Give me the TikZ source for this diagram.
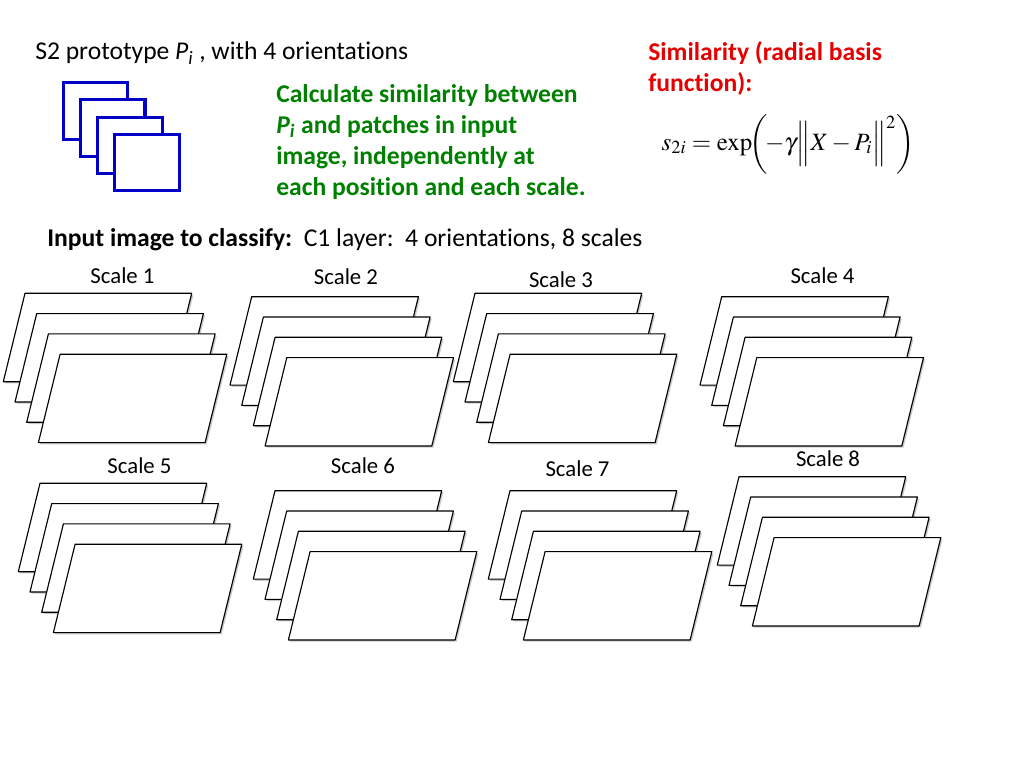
\documentclass[tikz,border=0pt]{standalone}
\usepackage{mathptmx}
\usepackage[no-math]{fontspec}
\setmainfont{Carlito}[Ligatures=CommonOff]
\usetikzlibrary{shadows,positioning}
\definecolor{calcgreen}{RGB}{0,128,0}
\definecolor{simred}{RGB}{230,0,0}
\definecolor{protoblue}{RGB}{0,0,200}

\begin{document}
\begin{tikzpicture}[x=0.703125pt, y=-0.703125pt]
  \tikzstyle{sheet} = [draw, fill=white, line width=0.8pt, line join=round, drop shadow={shadow xshift=1.2pt, shadow yshift=-1.2pt, opacity=0.35, fill=black!60}]
  \tikzstyle{proto} = [draw=protoblue, fill=white, line width=2.2pt]
  \tikzstyle{scalelabel} = [font=\fontsize{16}{19}\selectfont, inner sep=0pt]
  \tikzstyle{plain} = [font=\fontsize{18}{21.8}\selectfont, inner sep=0pt, align=left]
  \useasboundingbox (0,0) rectangle (1024,768);

  \node [plain, anchor=base west] (title) at (35,60) {S2 prototype \textit{P}\textsubscript{\textit{i}} , with 4 orientations};
  \foreach \k in {0,...,3}
    \draw [proto] (63.3+17.2*\k, 82.7+17.2*\k) rectangle ++(64.5,56.5);

  \node [plain, anchor=north west, text=calcgreen] (calc) at (276,84) {\bfseries Calculate similarity between\\\bfseries\textit{P}\textsubscript{\textit{i}} and patches in input\\\bfseries image, independently at\\\bfseries each position and each scale.};
  \node [plain, anchor=north west, text=simred] (sim) at (648,41) {\bfseries Similarity (radial basis\\\bfseries function):};
  \node [inner sep=0pt, font=\fontsize{17.5}{21}\selectfont] (rbf) at (788,144) {$s_{2i} = \exp\!\biggl(\!-\gamma\Bigl\|X-P_i\Bigr\|^2\biggr)$};

  \node [plain, anchor=base west] (input) at (47,247) {\textbf{Input image to classify:}\ \ C1 layer:\ \ 4 orientations, 8 scales};

  \foreach \sx/\sy/\n/\lx/\ly in {25/293.3/1/122.5/275.5, 251.7/296.7/2/346/276.7, 475/293.3/3/561/279.7, 721.7/296.7/4/822.5/275.5,
                                  40/483.3/5/139.5/465.5, 275/490.7/6/363/465.5, 510/490.7/7/577.5/469, 739/476.7/8/828/459}{
    \foreach \k in {0,...,3}
      \draw [sheet] (\sx+11.7*\k, \sy+20.3*\k) -- ++(166.7,0) -- ++(-21.7,88.4) -- ++(-166.7,0) -- cycle;
    \node [scalelabel] (scale\n) at (\lx,\ly) {Scale \n};
  }
\end{tikzpicture}
\end{document}
